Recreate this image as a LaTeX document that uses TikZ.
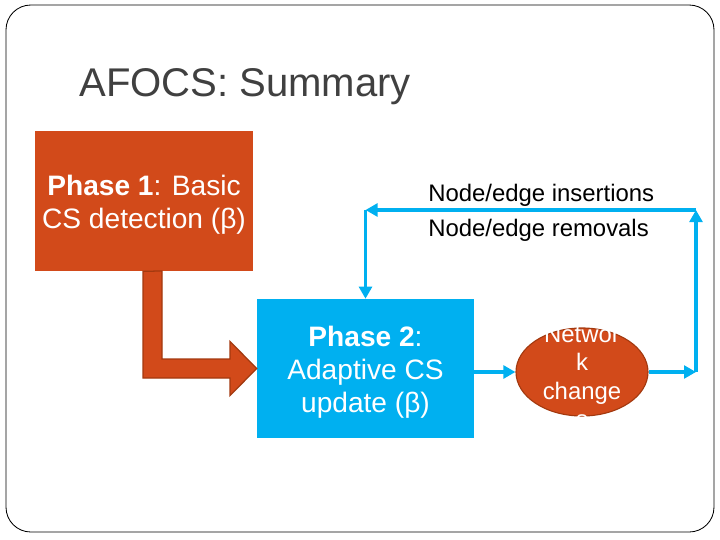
\documentclass[tikz,border=0pt]{standalone}
\usepackage{fontspec}
\setmainfont{Liberation Sans}
\usepackage{tikz}
\usetikzlibrary{arrows.meta,positioning,calc,shapes.geometric}
\definecolor{slideorange}{HTML}{D24A1A}
\definecolor{orangeedge}{HTML}{A3390F}
\definecolor{slideblue}{HTML}{00B0F0}
\definecolor{titlegray}{HTML}{404040}
\tikzset{
  phasebox/.style={rectangle, draw=none, inner sep=0pt},
  phasetext/.style={text=white, align=center, font=\fontsize{20}{23.5}\selectfont, yshift=-0.1cm},
  annot/.style={font=\fontsize{17}{24.5}\selectfont, text=black, align=left, inner sep=0pt},
  flow/.style={-{Triangle[length=3mm, width=3.2mm]}, line width=2.8pt, draw=slideblue},
  blockarrow/.style={fill=slideorange, draw=orangeedge, line width=0.9pt, line join=miter},
}
\begin{document}
\begin{tikzpicture}[
  chg/.style={ellipse, fill=slideorange, draw=orangeedge, line width=0.8pt,
    minimum width=3.3cm, minimum height=2.2cm, inner sep=0pt}]
  \useasboundingbox (0,0) rectangle (18,-13.5);
  % slide frame and title
  \draw[black, line width=0.6pt, rounded corners=0.62cm] (0.15,-0.125) rectangle (17.85,-13.3);
  \node[anchor=base west, inner sep=0pt, text=titlegray, font=\fontsize{28.5}{34}\selectfont]
    (title) at (1.975,-2.4) {AFOCS: Summary};
  % the two phases
  \node[phasebox, fill=slideorange, minimum width=5.45cm, minimum height=3.5cm,
    label={[phasetext]center:\textbf{Phase 1}: Basic\\CS detection (β)}] (p1) at (3.6,-5.025) {};
  \node[phasebox, fill=slideblue, minimum width=5.425cm, minimum height=3.475cm,
    label={[phasetext]center:\textbf{Phase 2}:\\Adaptive CS\\update (β)}] (p2) at (9.1375,-9.2125) {};
  % network changes
  \node[chg, label={[text=white, align=center, font=\fontsize{17}{20.2}\selectfont, yshift=-0.12cm]center:Networ\\k\\change\\s}]
    (net) at (14.55,-9.3) {};
  % bent arrow from phase 1 to phase 2
  \coordinate (bend) at ($(p1.south)+(-0.025,0)$);
  \draw[blockarrow] (bend) -- (3.575,-9.45) -- (5.75,-9.45) -- (5.75,-9.8875) -- (p2.west)
    -- (5.75,-8.5375) -- (5.75,-8.975) -- (4.05,-8.975) -- (4.05,-6.775) -- cycle;
  % feedback loop
  \coordinate (cr) at (17.4,-9.3);
  \coordinate (ctr) at (17.4,-5.25);
  \coordinate (ctl) at (p2.north |- ctr);
  \draw[flow] (net.west -| p2.east) -- (net.west);
  \draw[flow] (net.east) -- (cr);
  \draw[flow] (cr) -- (ctr);
  \draw[flow] (ctr) -- (ctl);
  \draw[flow] (ctl) -- (p2.north);
  \node[annot, anchor=west] (upd) at (10.7,-5.32) {Node/edge insertions\\Node/edge removals};
\end{tikzpicture}
\end{document}
